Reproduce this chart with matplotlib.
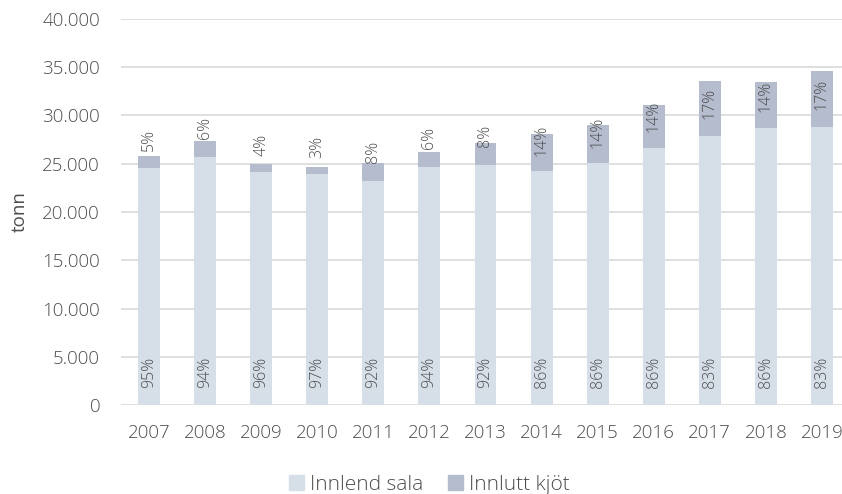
import matplotlib
matplotlib.use("Agg")
from matplotlib import pyplot as plt
from matplotlib.patches import Patch

years = ['2007', '2008', '2009', '2010', '2011', '2012', '2013',
         '2014', '2015', '2016', '2017', '2018', '2019']
innlend = [24600, 25750, 24100, 23900, 23200, 24700, 24900,
           24200, 25100, 26650, 27900, 28700, 28850]
innlutt = [1250, 1600, 900, 800, 1900, 1500, 2250,
           3900, 3950, 4450, 5700, 4750, 5750]
pct_innlend = ['95%', '94%', '96%', '97%', '92%', '94%', '92%',
               '86%', '86%', '86%', '83%', '86%', '83%']
pct_innlutt = ['5%', '6%', '4%', '3%', '8%', '6%', '8%',
               '14%', '14%', '14%', '17%', '14%', '17%']

c_inn = '#d6dee8'
c_ut = '#b4bccd'
txt = '#4d4d4d'
plt.rcParams['font.family'] = ['Open Sans', 'DejaVu Sans']
plt.rcParams['font.weight'] = 'light'

fig = plt.figure(figsize=(8.42, 4.94), dpi=100)
ax = fig.add_axes([121/842, 89/494, 729/842, 386/494])

x = range(len(years))
ax.bar(x, innlend, width=0.39, color=c_inn, zorder=2)
ax.bar(x, innlutt, width=0.39, bottom=innlend, color=c_ut, zorder=2)

for i in x:
    ax.annotate(pct_innlend[i], (i, 0), xytext=(0, 12), textcoords='offset points',
                rotation=90, ha='center', va='bottom', fontsize=11.5, color=txt)
    tot = innlend[i] + innlutt[i]
    ax.annotate(pct_innlutt[i], (i, tot - 0.9*innlutt[i]), xytext=(0, 19.4),
                textcoords='offset points', rotation=90, ha='center', va='center',
                fontsize=11.5, color=txt)

ax.set_xlim(-0.5, 12.5)
ax.set_ylim(0, 40000)
ax.set_yticks(range(0, 40001, 5000))
ax.set_yticklabels([f'{v:,}'.replace(',', '.') for v in range(0, 40001, 5000)])
ax.set_xticks(list(x))
ax.set_xticklabels(years)
ax.grid(axis='y', color='#d9d9d9', linewidth=1.2, zorder=0)
for s in ax.spines.values():
    s.set_visible(False)
ax.tick_params(length=0, labelsize=13.5, labelcolor=txt)
ax.tick_params(axis='x', pad=14)
ax.tick_params(axis='y', pad=15)
ax.set_ylabel('tonn', fontsize=13.5, color=txt, labelpad=10)

handles = [Patch(color=c_inn, label='Innlend sala'), Patch(color=c_ut, label='Innlutt kjöt')]
fig.legend(handles=handles, loc='lower center', bbox_to_anchor=(0.51, -0.04), ncol=2,
           frameon=False, fontsize=15, labelcolor=txt, handlelength=0.7, handleheight=0.7,
           handletextpad=0.3, columnspacing=1.2)

fig.savefig('out.png', dpi=100)
